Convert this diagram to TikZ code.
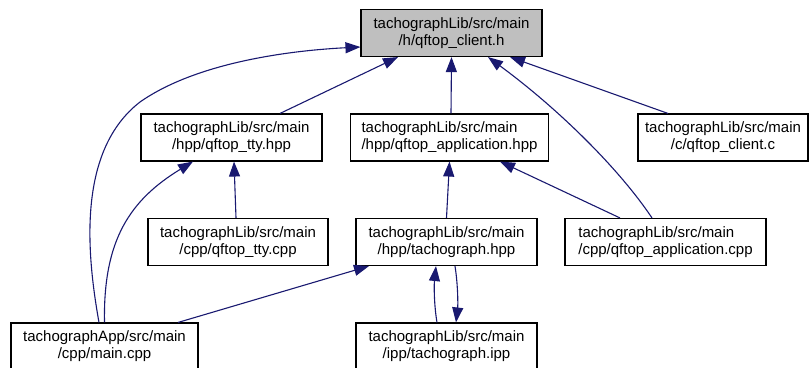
\documentclass[tikz,border=0pt]{standalone}
\usepackage{fontspec}
\setmainfont{Liberation Sans}
\definecolor{EdgeNavy}{RGB}{25,25,112}
\definecolor{RootGray}{RGB}{191,191,191}
\usetikzlibrary{arrows.meta}

\begin{document}
\begin{tikzpicture}[x=1pt,y=-1pt,
  filebox/.style={draw=black,line width=1.1pt,fill=white,minimum height=47pt,
    inner sep=0pt,align=center,font=\fontsize{15}{17}\selectfont},
  rootbox/.style={filebox,fill=RootGray},
  incl/.style={EdgeNavy,line width=1.1pt,-{Triangle[length=15pt,width=11pt]}}]
  \useasboundingbox (0,0) rectangle (811,367);

  % header and the files that include it
  \node[rootbox,minimum width=181pt] (hdr) at (451.5,33) {tachographLib/src/main\\/h/qftop\_client.h};
  \node[filebox,minimum width=181pt] (ttyhpp) at (231.5,137.5) {tachographLib/src/main\\/hpp/qftop\_tty.hpp};
  \node[filebox,minimum width=198pt,align=left] (apphpp) at (449.5,137.5) {tachographLib/src/main\\/hpp/qftop\_application.hpp};
  \node[filebox,minimum width=170pt] (clientc) at (723,137.5) {tachographLib/src/main\\/c/qftop\_client.c};
  \node[filebox,minimum width=180pt] (ttycpp) at (238,242) {tachographLib/src/main\\/cpp/qftop\_tty.cpp};
  \node[filebox,minimum width=181pt] (tachohpp) at (446.5,242) {tachographLib/src/main\\/hpp/tachograph.hpp};
  \node[filebox,minimum width=201pt,align=left] (appcpp) at (665.5,242) {tachographLib/src/main\\/cpp/qftop\_application.cpp};
  \node[filebox,minimum width=187pt] (maincpp) at (104.5,346.5) {tachographApp/src/main\\/cpp/main.cpp};
  \node[filebox,minimum width=181pt] (tachoipp) at (446.5,346.5) {tachographLib/src/main\\/ipp/tachograph.ipp};

  % include edges
  \draw[incl] ([xshift=-5.5pt]maincpp.north) .. controls (86,250) and (78,150) .. (140,102)
    .. controls (200,60) and (300,50) .. ([yshift=-14pt]hdr.west);
  \draw[incl] ([xshift=48.5pt]ttyhpp.north) -- ([xshift=-53.5pt]hdr.south);
  \draw[incl] ([xshift=1.5pt]apphpp.north) -- (hdr.south);
  \draw[incl] ([xshift=-13.5pt]appcpp.north) .. controls (620,170) and (560,110) .. ([xshift=36.5pt]hdr.south);
  \draw[incl] ([xshift=-55pt]clientc.north) -- ([xshift=58.5pt]hdr.south);
  \draw[incl] ([xshift=-2pt]ttycpp.north) -- ([xshift=2.5pt]ttyhpp.south);
  \draw[incl] (maincpp.north) .. controls (103,240) and (130,200) .. ([xshift=-38.5pt]ttyhpp.south);
  \draw[incl] (tachohpp.north) -- (apphpp.south);
  \draw[incl] ([xshift=-45.5pt]appcpp.north) -- ([xshift=50.5pt]apphpp.south);
  \draw[incl] ([xshift=73.5pt]maincpp.north) -- ([xshift=-77.5pt]tachohpp.south);
  \draw[incl] ([xshift=-9.5pt]tachoipp.north) .. controls (434,305) and (434,285) .. ([xshift=-10.5pt]tachohpp.south);
  \draw[incl] ([xshift=8.5pt]tachohpp.south) .. controls (458,285) and (458,305) .. ([xshift=9.5pt]tachoipp.north);
\end{tikzpicture}
\end{document}
